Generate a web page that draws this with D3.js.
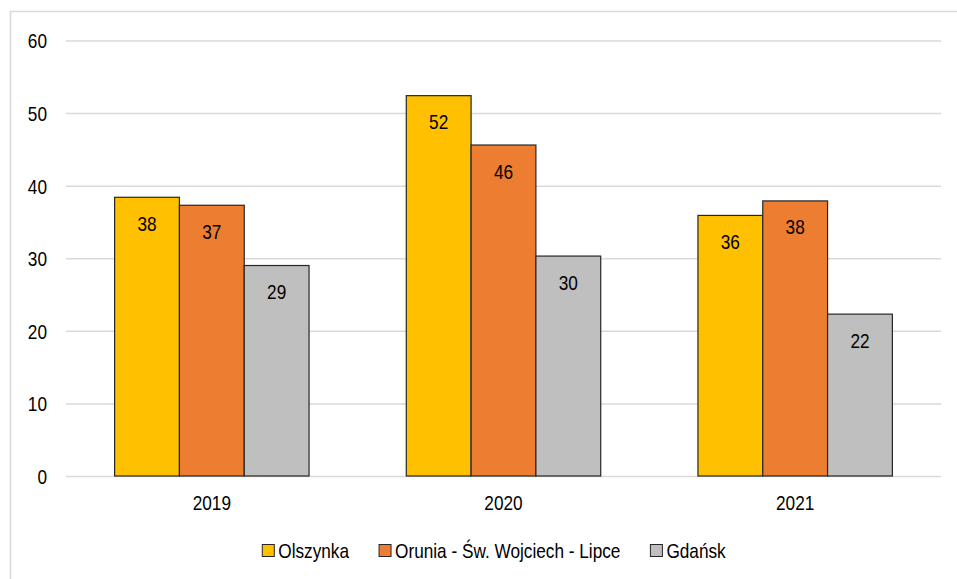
<!DOCTYPE html>
<html>
<head>
<meta charset="utf-8">
<script src="https://cdn.jsdelivr.net/npm/d3@7"></script>
<style>
  body { margin: 0; background: #fff; }
  svg text { font-family: "Liberation Sans", Arial, sans-serif; fill: #000; }
</style>
</head>
<body>
<div id="chart"></div>
<script>
// chart data
var years = ["2019", "2020", "2021"];
var seriesNames = ["Olszynka", "Orunia - Św. Wojciech - Lipce", "Gdańsk"];
var olszynka = [38.4, 52.4, 35.9];
var orunia = [37.3, 45.6, 37.9];
var gdansk = [29.0, 30.3, 22.3];
var yTicks = [0, 10, 20, 30, 40, 50, 60];
var colors = ["#FFC000", "#ED7D31", "#BFBFBF"];

var seriesValues = [olszynka, orunia, gdansk];

var width = 957, height = 579;
var plotLeft = 66, plotRight = 941, plotTop = 40.5, plotBottom = 476;
var fontSize = 21;
var squeeze = 0.82; // original text is a narrow face

// put a text at (x, y) and squeeze it horizontally
function narrow(sel, x, y) {
  sel.each(function(d, i) {
    var tx = typeof x === "function" ? x(d, i) : x;
    var ty = typeof y === "function" ? y(d, i) : y;
    d3.select(this)
      .attr("x", 0).attr("y", 0)
      .attr("transform", "translate(" + tx + "," + ty + ") scale(" + squeeze + ",1)");
  });
}

var svg = d3.select("#chart").append("svg")
  .attr("width", width)
  .attr("height", height);

// outer frame (clipped at right/bottom like the original)
svg.append("rect")
  .attr("x", 10.5).attr("y", 11.5)
  .attr("width", 960).attr("height", 600)
  .attr("fill", "none")
  .attr("stroke", "#d9d9d9")
  .attr("stroke-width", 1.5);

var y = d3.scaleLinear().domain([0, 60]).range([plotBottom, plotTop]);

var x0 = d3.scaleBand()
  .domain(years)
  .range([plotLeft, plotRight])
  .paddingInner(1 / 3)
  .paddingOuter(1 / 6);

var x1 = d3.scaleBand()
  .domain(d3.range(seriesNames.length))
  .range([0, x0.bandwidth()]);

// grid lines + y labels
var yAxis = d3.axisLeft(y)
  .tickValues(yTicks)
  .tickSize(-(plotRight - plotLeft))
  .tickFormat(d3.format("d"));

var gy = svg.append("g")
  .attr("transform", "translate(" + plotLeft + ",0)")
  .call(yAxis);
gy.select(".domain").remove();
gy.selectAll(".tick line")
  .attr("stroke", "#d9d9d9")
  .attr("stroke-width", 1.5);
gy.selectAll(".tick text")
  .attr("font-size", fontSize)
  .attr("font-family", null)
  .attr("fill", "#000")
  .attr("dy", "0.35em")
  .call(narrow, -19, 0);

// bars
var groups = svg.selectAll("g.year")
  .data(years)
  .enter().append("g")
  .attr("class", "year")
  .attr("transform", function(d) { return "translate(" + x0(d) + ",0)"; });

var bars = groups.selectAll("g.bar")
  .data(function(d, i) {
    return seriesValues.map(function(vals, s) { return { s: s, v: vals[i] }; });
  })
  .enter().append("g")
  .attr("class", "bar");

bars.append("rect")
  .attr("x", function(d) { return x1(d.s); })
  .attr("y", function(d) { return y(d.v); })
  .attr("width", x1.bandwidth())
  .attr("height", function(d) { return y(0) - y(d.v); })
  .attr("fill", function(d) { return colors[d.s]; })
  .attr("stroke", "#262626")
  .attr("stroke-width", 1.2);

bars.append("text")
  .attr("text-anchor", "middle")
  .attr("font-size", fontSize)
  .text(function(d) { return Math.round(d.v); })
  .call(narrow,
    function(d) { return x1(d.s) + x1.bandwidth() / 2; },
    function(d) { return y(d.v) + 33.5; });

// x category labels
var xAxis = d3.axisBottom(x0).tickSize(0);
var gx = svg.append("g")
  .attr("transform", "translate(0," + plotBottom + ")")
  .call(xAxis);
gx.select(".domain").remove();
gx.selectAll(".tick text")
  .attr("font-size", fontSize)
  .attr("font-family", null)
  .attr("fill", "#000")
  .attr("dy", null)
  .call(narrow, 0, 34);

// legend, laid out left to right then centred
var legend = svg.append("g").attr("class", "legend");
var items = legend.selectAll("g")
  .data(seriesNames)
  .enter().append("g");

items.append("rect")
  .attr("y", -12.5)
  .attr("width", 12).attr("height", 12)
  .attr("fill", function(d, i) { return colors[i]; })
  .attr("stroke", "#262626")
  .attr("stroke-width", 1);

items.append("text")
  .attr("font-size", fontSize)
  .text(function(d) { return d; })
  .call(narrow, 16, 0.5);

var pos = 0;
items.each(function() {
  var w = 16 + this.querySelector("text").getComputedTextLength() * squeeze;
  d3.select(this).attr("transform", "translate(" + pos + ",0)");
  pos += w + 30;
});
var legendW = pos - 30;
legend.attr("transform", "translate(" + (494 - legendW / 2) + ",557)");
</script>
</body>
</html>
